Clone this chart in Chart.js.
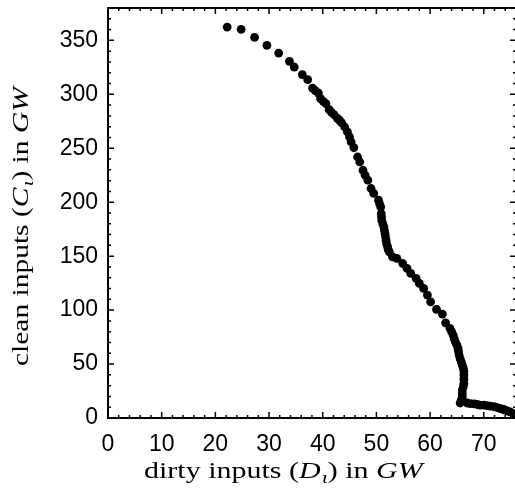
<!DOCTYPE html>
<html>
<head>
<meta charset="utf-8">
<script src="https://cdn.jsdelivr.net/npm/chart.js@4"></script>
<style>
  html, body { margin: 0; padding: 0; background: #fff; }
  #wrap { width: 515px; height: 495px; position: relative; }
</style>
</head>
<body>
<div id="wrap"><canvas id="chart"></canvas></div>
<script>
(() => {
  "use strict";

  // dirty inputs D (GW) and clean inputs C (GW)
  const dirtyInputs = [
    22.2, 24.8, 27.3, 29.6, 31.8, 33.8, 34.7, 36.2, 37.2, 38.1,
    38.6, 39.2, 39.6, 40.1, 40.6, 41.2, 41.6, 42.1, 42.7, 43.1,
    43.5, 44.1, 44.6, 45.0, 45.3, 45.8, 46.5, 46.9, 47.5, 47.9,
    48.4, 49.0, 49.5, 50.4, 50.6, 50.8, 50.9, 50.95, 51.0, 51.2,
    51.4, 51.5, 51.6, 51.7, 51.8, 51.9, 52.1, 52.2, 52.4, 53.0,
    53.8, 54.9, 55.7, 56.4, 57.4, 58.0, 58.8, 59.5, 60.1, 61.2,
    62.3, 62.9, 63.7, 64.0, 64.3, 64.5, 64.7, 65.0, 65.2, 65.3,
    65.4, 65.6, 65.8, 66.0, 66.2, 66.3, 66.3, 66.3, 66.3, 66.2,
    66.0, 66.0, 66.0, 65.8, 65.6, 66.9, 67.5, 68.2, 68.8, 69.3,
    70.0, 70.6, 71.2, 71.9, 72.4, 73.0, 73.5, 73.9, 74.4, 74.9,
    75.5
  ];
  const cleanInputs = [
    362.3, 360.2, 352.8, 345.4, 338.2, 330.6, 325.3, 318.2, 313.6, 305.8,
    303.5, 301.2, 296.0, 293.5, 291.4, 285.8, 283.5, 281.2, 278.0, 276.0,
    273.8, 269.7, 265.1, 260.5, 255.8, 250.6, 241.9, 237.3, 229.6, 225.0,
    220.4, 212.7, 208.1, 201.9, 198.5, 195.6, 189.5, 186.5, 183.3, 180.0,
    177.1, 174.0, 171.0, 168.0, 164.8, 161.5, 158.6, 156.0, 154.0, 149.4,
    147.9, 143.2, 138.6, 134.0, 129.4, 124.7, 120.1, 113.9, 107.7, 100.6,
    96.3, 88.2, 83.1, 80.0, 76.9, 73.5, 70.6, 67.5, 64.5, 61.5,
    58.3, 55.0, 52.1, 49.0, 46.0, 43.0, 39.8, 36.0, 32.1, 29.0,
    25.9, 22.5, 19.4, 16.5, 13.9, 13.9, 13.4, 13.0, 12.5, 12.0,
    12.0, 11.5, 11.0, 10.5, 9.8, 9.0, 8.2, 7.4, 6.5, 5.6,
    4.0
  ];

  const xRange = [0, 75];
  const yRange = [0, 380];
  const xFrameMax = 76;        // right edge of the box sits just past the picture
  const xStep = 10, xMinorStep = 2;
  const yStep = 50, yMinorStep = 10;

  const xTitle = [
    { t: "dirty inputs (" },
    { t: "D", it: true },
    { t: "\u03B9", it: true, sub: true },
    { t: ") in " },
    { t: "GW", it: true }
  ];
  const yTitle = [
    { t: "clean inputs (" },
    { t: "C", it: true },
    { t: "\u03B9", it: true, sub: true },
    { t: ") in " },
    { t: "GW", it: true }
  ];

  const points = dirtyInputs.map((x, i) => ({ x, y: cleanInputs[i] }));

  const TICK_FONT = { family: "'Liberation Sans', Arial, sans-serif", size: 23 };
  const SERIF = "'Liberation Serif', 'DejaVu Serif', serif";
  const TITLE_SIZE = 23;
  const TITLE_WIDTH = 280;

  function segFont(s) {
    const size = s.sub ? Math.round(TITLE_SIZE * 0.7) : TITLE_SIZE;
    return `${s.it ? "italic " : ""}${size}px ${SERIF}`;
  }

  function drawRich(ctx, segs, cx, cy, rotate) {
    ctx.save();
    ctx.translate(cx, cy);
    if (rotate) ctx.rotate(-Math.PI / 2);
    ctx.fillStyle = "#000";
    ctx.textBaseline = "alphabetic";
    ctx.textAlign = "left";
    let total = 0;
    const widths = segs.map(s => {
      ctx.font = segFont(s);
      const w = ctx.measureText(s.t).width + (s.it && !s.sub ? 1 : 0);
      total += w;
      return w;
    });
    // the original uses a wide TeX font; stretch to its width
    ctx.scale(TITLE_WIDTH / total, 1);
    let x = -total / 2;
    segs.forEach((s, i) => {
      ctx.font = segFont(s);
      ctx.fillText(s.t, x, s.sub ? 5 : 0);
      x += widths[i];
    });
    ctx.restore();
  }

  // box with inward major/minor ticks on all four sides, plus titles
  const framePlugin = {
    id: "frame",
    beforeDatasetsDraw(chart) {
      const { ctx, chartArea: a, scales } = chart;
      const xs = scales.x, ys = scales.y;
      const right = xs.getPixelForValue(xFrameMax);
      ctx.save();
      ctx.strokeStyle = "#000";
      ctx.lineWidth = 1.5;
      for (let v = xRange[0]; v <= xFrameMax; v += xMinorStep) {
        const px = xs.getPixelForValue(v);
        const len = v % xStep === 0 ? 6 : 3;
        ctx.beginPath();
        ctx.moveTo(px, a.bottom); ctx.lineTo(px, a.bottom - len);
        ctx.moveTo(px, a.top); ctx.lineTo(px, a.top + len);
        ctx.stroke();
      }
      for (let v = yRange[0]; v <= yRange[1]; v += yMinorStep) {
        const py = ys.getPixelForValue(v);
        const len = v % yStep === 0 ? 6 : 3;
        ctx.beginPath();
        ctx.moveTo(a.left, py); ctx.lineTo(a.left + len, py);
        ctx.moveTo(right, py); ctx.lineTo(right - len, py);
        ctx.stroke();
      }
      ctx.lineWidth = 2;
      ctx.strokeRect(a.left, a.top, right - a.left, a.bottom - a.top);
      ctx.restore();
    },
    afterDraw(chart) {
      const ctx = chart.ctx;
      drawRich(ctx, xTitle, 284, 478, false);
      drawRich(ctx, yTitle, 28, 226, true);
    }
  };

  new Chart(document.getElementById("chart"), {
    type: "scatter",
    data: {
      datasets: [{
        data: points,
        backgroundColor: "#000",
        borderColor: "#000",
        pointRadius: 4.4,
        pointHoverRadius: 4.4,
        borderWidth: 0,
        clip: false
      }]
    },
    options: {
      responsive: true,
      maintainAspectRatio: false,
      animation: false,
      layout: { padding: { left: 0, top: 8, right: 1, bottom: 0 } },
      plugins: {
        legend: { display: false },
        tooltip: { enabled: false }
      },
      scales: {
        x: {
          type: "linear",
          min: xRange[0],
          max: xRange[1],
          grid: { display: false, drawTicks: false },
          border: { display: false },
          ticks: {
            stepSize: xStep,
            includeBounds: false,
            color: "#000",
            font: TICK_FONT,
            padding: 13,
            maxRotation: 0
          },
          afterFit(scale) {
            scale.height = 77;
            scale.paddingLeft = 0;
            scale.paddingRight = 0;
          }
        },
        y: {
          type: "linear",
          min: yRange[0],
          max: yRange[1],
          grid: { display: false, drawTicks: false },
          border: { display: false },
          ticks: {
            stepSize: yStep,
            includeBounds: false,
            color: "#000",
            font: TICK_FONT,
            padding: 10
          },
          afterFit(scale) {
            scale.width = 108;
            scale.paddingTop = 0;
            scale.paddingBottom = 0;
          }
        }
      }
    },
    plugins: [framePlugin]
  });
})();
</script>
</body>
</html>
